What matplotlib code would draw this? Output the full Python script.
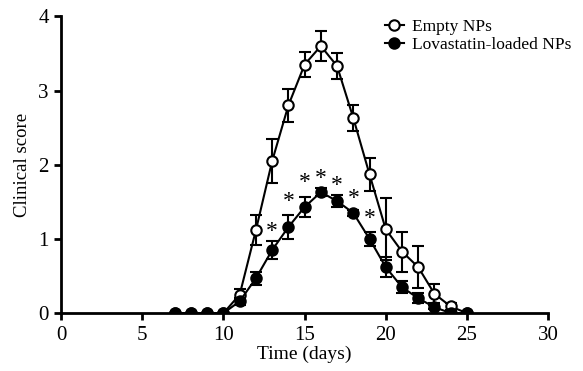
import numpy as np
import matplotlib.pyplot as plt
from matplotlib.lines import Line2D

plt.rcParams['font.family'] = ['Liberation Serif', 'DejaVu Serif']

days = np.arange(7, 26)
empty_mean = [0, 0, 0, 0, 0.25, 1.12, 2.05, 2.8, 3.35, 3.6, 3.33, 2.63, 1.87, 1.13, 0.83, 0.62, 0.26, 0.09, 0]
empty_err = [0, 0, 0, 0, 0.07, 0.2, 0.3, 0.22, 0.17, 0.2, 0.18, 0.18, 0.22, 0.42, 0.27, 0.28, 0.13, 0.05, 0]
lova_mean = [0, 0, 0, 0, 0.16, 0.47, 0.85, 1.16, 1.43, 1.63, 1.51, 1.35, 1.0, 0.62, 0.35, 0.2, 0.08, 0, 0]
lova_err = [0, 0, 0, 0, 0.05, 0.09, 0.12, 0.16, 0.13, 0.05, 0.08, 0.04, 0.09, 0.13, 0.08, 0.07, 0.03, 0, 0]

star_days = [13, 14, 15, 16, 17, 18, 19]
star_y = [1.1, 1.5, 1.76, 1.82, 1.72, 1.54, 1.27]

fig = plt.figure(figsize=(5.83, 3.71), dpi=100)
ax = fig.add_axes([0.105, 0.156, 0.835, 0.8])

style = dict(fmt='-o', color='black', mec='black', ms=7.5, mew=1.5, lw=1.5,
             capsize=4, elinewidth=1.5, capthick=1.5)
ax.errorbar(days, empty_mean, yerr=empty_err, mfc='white', zorder=3, **style)
ax.errorbar(days, lova_mean, yerr=lova_err, mfc='black', zorder=4, **style)

for d, y in zip(star_days, star_y):
    ax.text(d, y, '*', ha='center', va='center', fontsize=17)

ax.set_xlim(0, 30)
ax.set_ylim(0, 4)
ax.set_xticks(np.arange(0, 31, 5))
ax.set_yticks(np.arange(0, 5, 1))
ax.spines['top'].set_visible(False)
ax.spines['right'].set_visible(False)
for s in ['left', 'bottom']:
    ax.spines[s].set_linewidth(2)
    ax.spines[s].set_zorder(5)
ax.tick_params(width=2, length=5, labelsize=15, pad=4)
ax.set_xlabel('Time (days)', fontsize=14, labelpad=1)
ax.set_ylabel('Clinical score', fontsize=13.5, labelpad=5)

handles = [
    Line2D([], [], color='black', lw=1.5, marker='o', mfc='white', mec='black', ms=7.5, mew=1.5),
    Line2D([], [], color='black', lw=1.5, marker='o', mfc='black', mec='black', ms=7.5, mew=1.5),
]
fig.legend(handles, ['Empty NPs', 'Lovastatin-loaded NPs'], loc='upper left',
           bbox_to_anchor=(0.66, 0.95), frameon=False, fontsize=12.5,
           handlelength=1.1, handletextpad=0.45, labelspacing=0.15,
           borderpad=0, borderaxespad=0)

fig.savefig('out.png', dpi=100)
